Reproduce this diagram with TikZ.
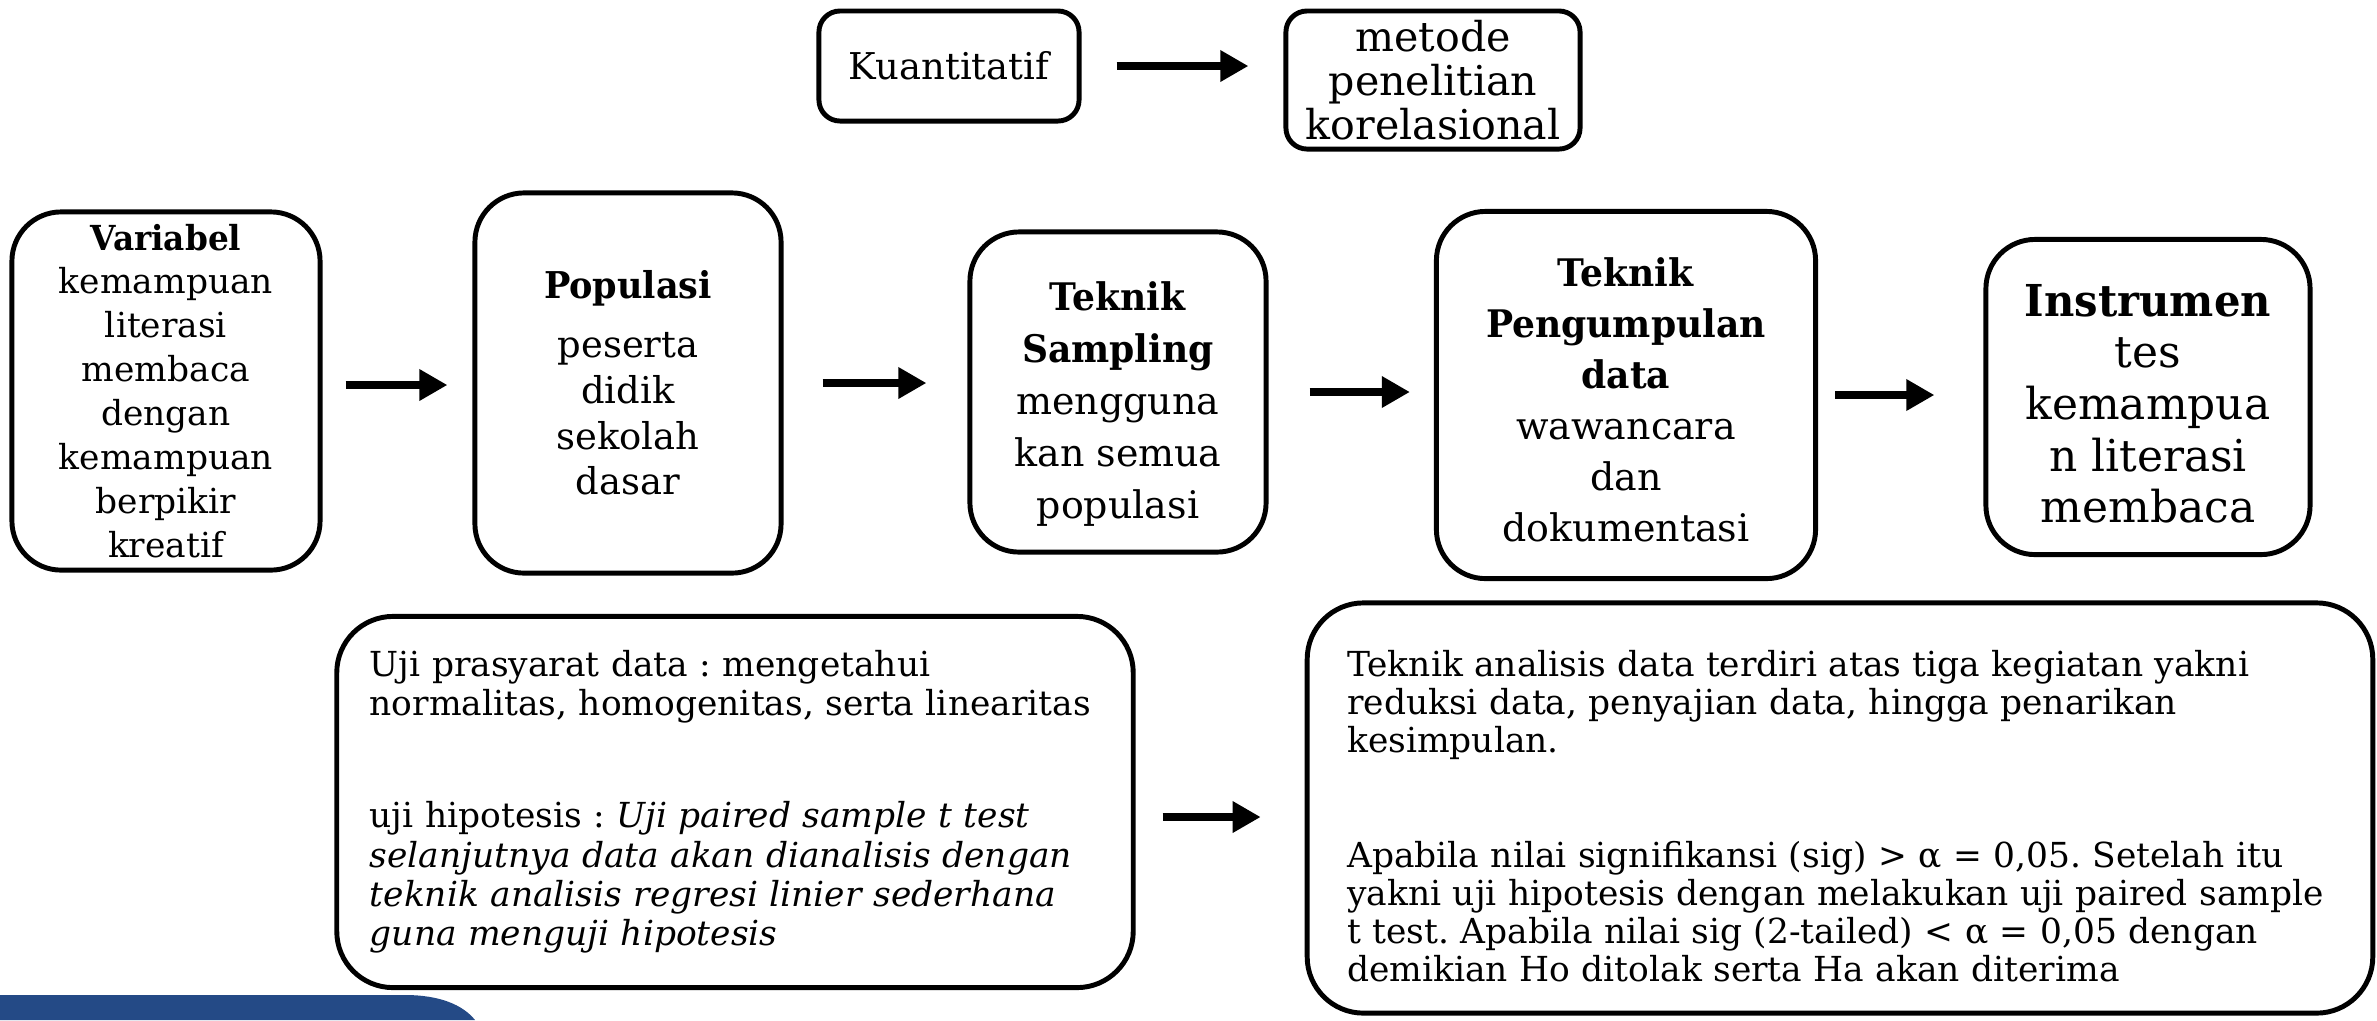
\documentclass[tikz,border=0pt]{standalone}
\usepackage{fontspec}
\setmainfont{DejaVu Serif}[BoldFeatures={FakeStretch=0.95}]
\usepackage{tikz}
\usetikzlibrary{arrows.meta, positioning, calc}
\definecolor{slideblue}{HTML}{244A86}
\frenchspacing

\begin{document}
\begin{tikzpicture}[
    x=0.01cm, y=-0.01cm,
    topbox/.style={rectangle, draw, line width=1.4pt, rounded corners=6pt, inner sep=0pt, align=center},
    stepbox/.style={rectangle, draw, line width=1.4pt, rounded corners=14pt, inner sep=0pt, align=center},
    notebox/.style={rectangle, draw, line width=1.4pt, rounded corners=16pt, inner sep=0pt, align=left, font=\fontsize{9.8}{11.2}\selectfont},
    flow/.style={-{Triangle[length=8pt, width=8.5pt]}, line width=2.3pt}
]
\useasboundingbox (0,0) rectangle (2377,1020);

% Method
\node[topbox, font=\fontsize{10.5}{12.3}\selectfont, minimum width=2.6cm, minimum height=1.1cm] (kuant) at (949,66) {Kuantitatif};
\node[topbox, font=\fontsize{11.7}{12.6}\selectfont, minimum width=2.94cm, minimum height=1.38cm] (metode) at (1433,80) {metode\\penelitian\\korelasional};

% Research steps
\node[stepbox, font=\fontsize{9.8}{12.5}\selectfont, minimum width=3.08cm, minimum height=3.58cm] (var) at (166,391)
    {\textbf{Variabel}\\kemampuan\\literasi\\membaca\\dengan\\kemampuan\\berpikir\\kreatif};
\node[stepbox, font=\fontsize{10.5}{13}\selectfont, minimum width=3.06cm, minimum height=3.8cm] (pop) at (628,383)
    {\textbf{Populasi}\\[3.7pt]peserta\\didik\\sekolah\\dasar};
\node[stepbox, font=\fontsize{10.8}{14.8}\selectfont, minimum width=2.96cm, minimum height=3.2cm] (samp) at (1118,392)
    {\rule{0pt}{15pt}\textbf{Teknik}\\\textbf{Sampling}\\mengguna\\kan semua\\populasi};
\node[stepbox, font=\fontsize{10.8}{14.5}\selectfont, minimum width=3.79cm, minimum height=3.67cm] (kump) at (1626,395)
    {\rule{0pt}{11pt}\textbf{Teknik}\\\textbf{Pengumpulan}\\\textbf{data}\\wawancara\\dan\\dokumentasi};
\node[stepbox, font=\fontsize{12.5}{14.7}\selectfont, minimum width=3.24cm, minimum height=3.15cm] (instr) at (2148,397)
    {\rule{0pt}{13pt}\textbf{Instrumen}\\tes\\kemampua\\n literasi\\membaca};

% Analysis
\node[notebox, text width=7.3cm, minimum width=7.96cm, minimum height=3.71cm] (uji) at (735,802)
    {Uji prasyarat data : mengetahui\\normalitas, homogenitas, serta linearitas\\[20.6pt]
     uji hipotesis : \textit{Uji paired sample t test}\\\textit{selanjutnya data akan dianalisis dengan}\\
     \textit{teknik analisis regresi linier sederhana}\\\textit{guna menguji hipotesis}};
\node[notebox, font=\fontsize{9.8}{10.8}\selectfont, text width=9.85cm, minimum width=10.65cm, minimum height=4.1cm] (anal) at (1840,808)
    {\rule{0pt}{12pt}Teknik analisis data terdiri atas tiga kegiatan yakni\\reduksi data, penyajian data, hingga penarikan\\kesimpulan.\\[22pt]
     Apabila nilai signifikansi (sig) > α = 0,05. Setelah itu\\yakni uji hipotesis dengan melakukan uji paired sample\\
     t test. Apabila nilai sig (2-tailed) < α = 0,05 dengan\\demikian Ho ditolak serta Ha akan diterima};

% Arrows
\draw[flow, shorten <=0.35cm, shorten >=0.35cm] (kuant.east) -- (kuant.east -| metode.west);
\draw[flow, shorten <=0.23cm, shorten >=0.25cm] ([yshift=0.06cm]var.east) -- ([yshift=0.06cm]var.east -| pop.west);
\draw[flow, shorten <=0.39cm, shorten >=0.41cm] (pop.east) -- (pop.east -| samp.west);
\draw[flow, shorten <=0.41cm, shorten >=0.24cm] (samp.east) -- (samp.east -| kump.west);
\draw[flow, shorten <=0.17cm, shorten >=0.49cm] (kump.east) -- (kump.east -| instr.west);
\draw[flow, shorten <=0.27cm, shorten >=0.44cm] ([yshift=-0.15cm]uji.east) -- ([yshift=-0.15cm]uji.east -| anal.west);

% Slide corner
\fill[slideblue] (0,995) -- (405,995) .. controls (440,995) and (463,1005) .. (475,1020) -- (0,1020) -- cycle;

\end{tikzpicture}
\end{document}
